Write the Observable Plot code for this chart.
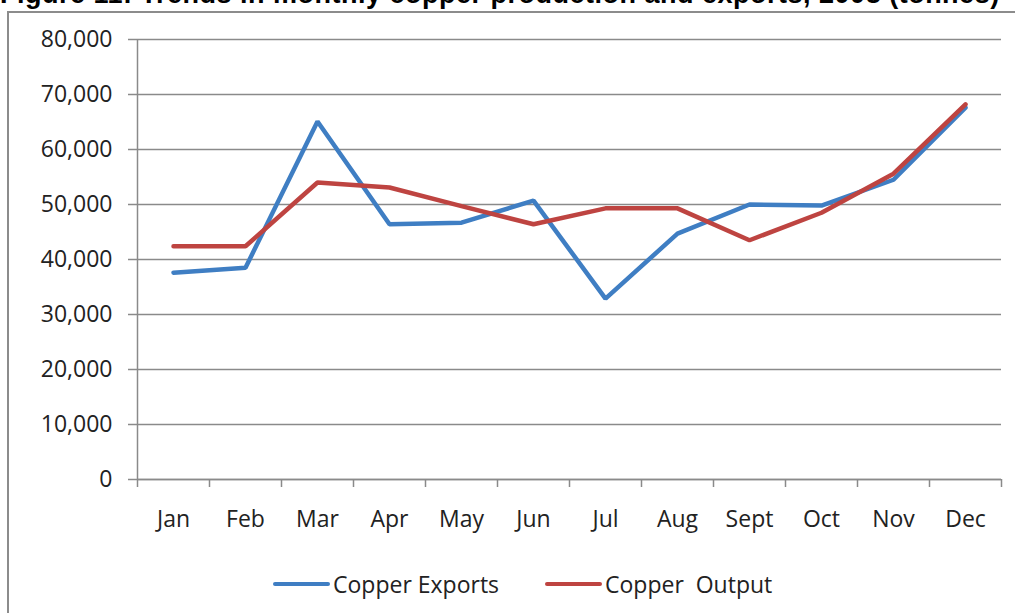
<!DOCTYPE html>
<html>
<head>
<meta charset="utf-8">
<script src="https://cdn.jsdelivr.net/npm/d3@7"></script>
<script src="https://cdn.jsdelivr.net/npm/@observablehq/plot@0.6"></script>
<style>
  html, body { margin: 0; padding: 0; background: #fff; }
  #wrap { position: relative; width: 1015px; height: 613px; overflow: hidden; background: #fff; }
  #title { position: absolute; left: 0; top: -18px; white-space: nowrap; font: bold 27px "Liberation Sans", Arial, sans-serif; letter-spacing: 0.5px; line-height: 24px; color: #000; }
  #frame { position: absolute; left: 7px; top: 11px; width: 1100px; height: 700px; border: 2px solid #8c8c8c; box-sizing: border-box; }
  #chart { position: absolute; left: 0; top: 0; }
  #legend { position: absolute; top: 568px; left: 0; width: 1015px; height: 30px; font: 23px "Open Sans", sans-serif; color: #222; }
  .item { position: absolute; top: 0; display: flex; align-items: center; white-space: pre; }
  .sw { display: inline-block; width: 57px; height: 4px; border-radius: 2px; margin-right: 3px; }
</style>
</head>
<body>
<div id="wrap">
  <div id="title">Figure 11: Trends in monthly copper production and exports, 2008 (tonnes)</div>
  <div id="frame"></div>
  <div id="chart"></div>
  <div id="legend"></div>
</div>
<script>
const months = ["Jan","Feb","Mar","Apr","May","Jun","Jul","Aug","Sept","Oct","Nov","Dec"];
const copperExports = [37600, 38500, 65100, 46400, 46700, 50700, 32900, 44700, 50000, 49800, 54500, 67600];
const copperOutput  = [42400, 42400, 54000, 53100, 49700, 46400, 49300, 49300, 43500, 48500, 55600, 68200];
const seriesNames = ["Copper Exports", "Copper  Output"];
const seriesColors = ["#3f7ec3", "#be4441"];
const yTicks = [0, 10000, 20000, 30000, 40000, 50000, 60000, 70000, 80000];

const rows = [];
months.forEach((m, i) => {
  rows.push({series: seriesNames[0], x: i + 0.5, value: copperExports[i]});
  rows.push({series: seriesNames[1], x: i + 0.5, value: copperOutput[i]});
});

const fmt = d3.format(",");
const font = '"Open Sans", sans-serif';

const chart = Plot.plot({
  width: 1015,
  height: 545,
  marginLeft: 137,
  marginRight: 14,
  marginTop: 39,
  marginBottom: 66,
  style: {fontFamily: font, fontSize: "23px", color: "#222", background: "transparent", overflow: "visible"},
  x: {type: "linear", domain: [0, months.length]},
  y: {domain: [0, 80000]},
  color: {domain: seriesNames, range: seriesColors},
  marks: [
    Plot.gridY(yTicks, {stroke: "#8a8a8a", strokeOpacity: 1, strokeWidth: 1.5}),
    Plot.axisY(yTicks, {tickSize: 9, tickPadding: 16, tickFormat: fmt, stroke: "#8a8a8a", strokeWidth: 1.5, fill: "#222", label: null, fontSize: 23}),
    Plot.ruleX([0], {stroke: "#8a8a8a", strokeWidth: 1.5}),
    Plot.ruleY([0], {stroke: "#8a8a8a", strokeWidth: 1.5}),
    Plot.axisX(d3.range(months.length + 1), {tickSize: 8, tickFormat: () => "", stroke: "#8a8a8a", strokeWidth: 1.5, label: null}),
    Plot.axisX(months.map((m, i) => i + 0.5), {tickSize: 0, tickPadding: 31, tickFormat: d => months[Math.round(d - 0.5)], fill: "#222", label: null, fontSize: 23}),
    Plot.line(rows, {x: "x", y: "value", z: "series", stroke: "series", strokeWidth: 4.5, strokeLinejoin: "miter", strokeLinecap: "round"})
  ]
});
document.getElementById("chart").appendChild(chart);

const legend = document.getElementById("legend");
const lefts = [273, 545];
seriesNames.forEach((name, i) => {
  const it = document.createElement("div");
  it.className = "item";
  it.style.left = lefts[i] + "px";
  const sw = document.createElement("span");
  sw.className = "sw";
  sw.style.background = seriesColors[i];
  const tx = document.createElement("span");
  tx.textContent = name;
  it.appendChild(sw);
  it.appendChild(tx);
  legend.appendChild(it);
});
</script>
</body>
</html>
